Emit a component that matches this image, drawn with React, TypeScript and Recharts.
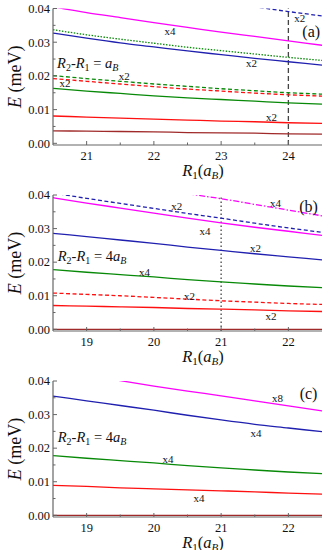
import React from "react";
import { LineChart, Line, XAxis, YAxis, ReferenceLine, ReferenceDot } from "recharts";

const FONT = '"Liberation Serif", "Times New Roman", serif';
const AXIS = "#666";
const INK = "#111";

const MAGENTA = "#ff00ff";
const BLUE = "#2020b0";
const GREEN = "#088a08";
const RED = "#ff1010";
const DARKRED = "#a02a2a";

// panel (a): R2 - R1 = aB
const rA = [20.5, 21, 21.5, 22, 22.5, 23, 23.5, 24, 24.5];
const aMagenta = [0.0405, 0.0388, 0.0373, 0.0358, 0.0344, 0.033, 0.0317, 0.0304, 0.0291];
const aBlueDash = [null, null, null, null, null, 0.042, 0.0405, 0.0391, 0.0378];
const aGreenDot = [0.0337, 0.0322, 0.0309, 0.0297, 0.0285, 0.0275, 0.0265, 0.0255, 0.0246];
const aBlue = [0.0327, 0.0312, 0.0298, 0.0286, 0.0274, 0.0263, 0.0252, 0.0242, 0.0232];
const aGreenDash = [0.0201, 0.0192, 0.0184, 0.0176, 0.0169, 0.0162, 0.0156, 0.015, 0.0146];
const aRedDash = [0.0192, 0.0184, 0.0176, 0.0168, 0.0161, 0.0155, 0.0149, 0.0144, 0.014];
const aGreen = [0.0163, 0.0155, 0.0148, 0.0141, 0.0135, 0.013, 0.0125, 0.012, 0.0116];
const aRed = [0.0081, 0.0078, 0.0075, 0.0072, 0.0069, 0.0066, 0.0064, 0.0061, 0.0059];
const aDarkRed = [0.0037, 0.0036, 0.0035, 0.0034, 0.0032, 0.0031, 0.003, 0.0028, 0.0027];
const aTicks = [21, 21.5, 22, 22.5, 23, 23.5, 24];

// panel (b): R2 - R1 = 4aB
const rB = [18.5, 19, 19.5, 20, 20.5, 21, 21.5, 22, 22.5];
const bMagentaDashDot = [null, null, null, 0.0422, 0.0404, 0.0389, 0.0372, 0.0355, 0.0338];
const bBlueDash = [0.0406, 0.039, 0.0375, 0.036, 0.0345, 0.0331, 0.0316, 0.0302, 0.0289];
const bMagenta = [0.0392, 0.0376, 0.0361, 0.0346, 0.0331, 0.0317, 0.0304, 0.0292, 0.028];
const bBlue = [0.0286, 0.0276, 0.0266, 0.0256, 0.0245, 0.0235, 0.0225, 0.0216, 0.0207];
const bGreen = [0.0178, 0.017, 0.0163, 0.0156, 0.0148, 0.0141, 0.0135, 0.0129, 0.0124];
const bRedDash = [0.0108, 0.0104, 0.01, 0.0095, 0.009, 0.0085, 0.0081, 0.0077, 0.0074];
const bRed = [0.0071, 0.0069, 0.0067, 0.0065, 0.0062, 0.006, 0.0058, 0.0055, 0.0053];
const bDarkRed = [0, 0, 0, 0, 0, 0, 0, 0, 0];

// panel (c): R2 - R1 = 4aB
const rC = rB;
const cMagenta = [null, 0.0418, 0.0401, 0.0385, 0.037, 0.0356, 0.0341, 0.0326, 0.0311];
const cBlue = [0.0355, 0.0341, 0.0327, 0.0313, 0.0298, 0.0284, 0.0271, 0.026, 0.0249];
const cGreen = [0.0178, 0.017, 0.0163, 0.0156, 0.0148, 0.0141, 0.0135, 0.0129, 0.0124];
const cRed = [0.0089, 0.0086, 0.0082, 0.0079, 0.0076, 0.0073, 0.007, 0.0066, 0.0063];
const cDarkRed = [0, 0, 0, 0, 0, 0, 0, 0, 0];
const bcTicks = [19, 19.5, 20, 20.5, 21, 21.5, 22];

const yTicks = [0, 0.005, 0.01, 0.015, 0.02, 0.025, 0.03, 0.035, 0.04];

// degeneracy labels: [R1, E, text]
const aNotes: [number, number, string][] = [
  [22.24, 0.0332, "x4"],
  [23.45, 0.0239, "x2"],
  [21.56, 0.0199, "x2"],
  [20.68, 0.018, "x2"],
  [23.75, 0.0078, "x2"],
  [24.17, 0.0371, "x2"],
];
const bNotes: [number, number, string][] = [
  [20.34, 0.0366, "x2"],
  [21.81, 0.0377, "x4"],
  [20.76, 0.0293, "x4"],
  [21.51, 0.0242, "x2"],
  [19.86, 0.0172, "x4"],
  [20.53, 0.0099, "x2"],
  [21.74, 0.0041, "x2"],
];
const cNotes: [number, number, string][] = [
  [21.84, 0.0348, "x8"],
  [21.52, 0.0246, "x4"],
  [20.21, 0.0167, "x4"],
  [20.67, 0.0053, "x4"],
];

type Series = { values: (number | null)[]; color: string; dash?: string };

const DASH = "4 2.5";
const DOT = "1.5 1.5";
const DASHDOT = "6 2 1.5 2";

const serif = { fontFamily: FONT };

const isMajor = (v: number, step: number) => Math.abs(v / step - Math.round(v / step)) < 1e-6;

function BottomTick(p: any) {
  const v = p.payload.value as number;
  const major = isMajor(v, 1);
  return (
    <g>
      <line x1={p.x} y1={p.y} x2={p.x} y2={p.y - (major ? 4 : 2.5)} stroke={AXIS} />
      {major && (
        <text x={p.x} y={p.y + 14.5} textAnchor="middle" fontSize={12.5} style={serif} fill={INK}>
          {v}
        </text>
      )}
    </g>
  );
}

function TopTick(p: any) {
  const major = isMajor(p.payload.value, 1);
  return <line x1={p.x} y1={p.y} x2={p.x} y2={p.y + (major ? 4 : 2.5)} stroke={AXIS} />;
}

function LeftTick(p: any) {
  const v = p.payload.value as number;
  const major = isMajor(v, 0.01);
  return (
    <g>
      <line x1={p.x} y1={p.y} x2={p.x + (major ? 4 : 2.5)} y2={p.y} stroke={AXIS} />
      {major && (
        <text x={p.x - 3} y={p.y + 4.3} textAnchor="end" fontSize={12.5} style={serif} fill={INK}>
          {v.toFixed(2)}
        </text>
      )}
    </g>
  );
}

function RightTick(p: any) {
  const major = isMajor(p.payload.value, 0.01);
  return <line x1={p.x} y1={p.y} x2={p.x - (major ? 4 : 2.5)} y2={p.y} stroke={AXIS} />;
}

function yTitle(props: any) {
  const vb = props.viewBox;
  const cx = 15;
  const cy = vb.y + vb.height / 2;
  return (
    <text
      x={cx}
      y={cy + 6}
      transform={`rotate(-90 ${cx} ${cy})`}
      textAnchor="middle"
      fontSize={18}
      style={serif}
      fill={INK}
    >
      <tspan fontStyle="italic">E</tspan>
      <tspan>{"\u00a0(meV)"}</tspan>
    </text>
  );
}

function xTitle(props: any) {
  const vb = props.viewBox;
  return (
    <text x={vb.x + 150} y={vb.y + 31} textAnchor="middle" fontSize={16.5} style={serif} fill={INK}>
      <tspan fontStyle="italic">R</tspan>
      <tspan fontSize={11} dy={3}>1</tspan>
      <tspan dy={-3}>(</tspan>
      <tspan fontStyle="italic">a</tspan>
      <tspan fontStyle="italic" fontSize={11} dy={3}>B</tspan>
      <tspan dy={-3}>)</tspan>
    </text>
  );
}

function Relation({ cx, cy, four }: { cx: number; cy: number; four: boolean }) {
  return (
    <text x={cx} y={cy + 5} fontSize={14.5} style={serif} fill={INK}>
      <tspan fontStyle="italic">R</tspan>
      <tspan fontSize={10} dy={3}>2</tspan>
      <tspan dy={-3}>-</tspan>
      <tspan fontStyle="italic">R</tspan>
      <tspan fontSize={10} dy={3}>1</tspan>
      <tspan dy={-3}>{"\u00a0=\u00a0" + (four ? "4" : "")}</tspan>
      <tspan fontStyle="italic">a</tspan>
      <tspan fontStyle="italic" fontSize={10} dy={3}>B</tspan>
    </text>
  );
}

interface PanelProps {
  top: number;
  marginTop: number;
  rs: number[];
  series: Series[];
  xDomain: [number, number];
  xTicks: number[];
  notes: [number, number, string][];
  letter: string;
  letterAt: [number, number];
  relationAt: [number, number];
  four: boolean;
  refX?: number;
  refDash?: string;
}

function Panel(props: PanelProps) {
  const { rs, series } = props;
  const rows = rs.map((r, i) => {
    const row: Record<string, number | null> = { r };
    series.forEach((s, k) => {
      row["s" + k] = s.values[i];
    });
    return row;
  });

  return (
    <div style={{ position: "absolute", left: 0, top: props.top }}>
      <LineChart width={330} height={185} data={rows} margin={{ top: props.marginTop, right: 8, bottom: 0, left: 0 }}>
        <XAxis
          dataKey="r"
          type="number"
          domain={props.xDomain}
          ticks={props.xTicks}
          interval={0}
          allowDataOverflow
          height={40}
          tickSize={0}
          tickMargin={0}
          tickLine={false}
          tick={BottomTick}
          stroke={AXIS}
          strokeWidth={1.2}
          label={{ content: xTitle }}
        />
        <XAxis
          xAxisId="top"
          orientation="top"
          dataKey="r"
          type="number"
          domain={props.xDomain}
          ticks={props.xTicks}
          interval={0}
          allowDataOverflow
          height={0}
          tickSize={0}
          tickMargin={0}
          tickLine={false}
          tick={TopTick}
          stroke={AXIS}
          strokeWidth={1.2}
        />
        <YAxis
          type="number"
          domain={[-0.0005, 0.04]}
          ticks={yTicks}
          interval={0}
          allowDataOverflow
          width={53}
          tickSize={0}
          tickMargin={0}
          tickLine={false}
          tick={LeftTick}
          stroke={AXIS}
          strokeWidth={1.2}
          label={{ content: yTitle }}
        />
        <YAxis
          yAxisId="right"
          orientation="right"
          type="number"
          domain={[-0.0005, 0.04]}
          ticks={yTicks}
          interval={0}
          allowDataOverflow
          width={0}
          tickSize={0}
          tickMargin={0}
          tickLine={false}
          tick={RightTick}
          stroke={AXIS}
          strokeWidth={1.2}
        />
        {props.refX !== undefined && (
          <ReferenceLine x={props.refX} stroke="#444" strokeWidth={1.3} strokeDasharray={props.refDash} />
        )}
        {series.map((s, k) => (
          <Line
            key={k}
            dataKey={"s" + k}
            type="monotone"
            stroke={s.color}
            strokeWidth={1.3}
            strokeDasharray={s.dash}
            dot={false}
            activeDot={false}
            connectNulls={false}
            isAnimationActive={false}
          />
        ))}
        {props.notes.map(([r, e, t], k) => (
          <ReferenceDot
            key={"n" + k}
            x={r}
            y={e}
            r={0}
            ifOverflow="visible"
            shape={(p: any) => (
              <text x={p.cx} y={p.cy + 4} textAnchor="middle" fontSize={11} style={serif} fill={INK}>
                {t}
              </text>
            )}
          />
        ))}
        <ReferenceDot
          x={props.letterAt[0]}
          y={props.letterAt[1]}
          r={0}
          ifOverflow="visible"
          shape={(p: any) => (
            <text x={p.cx} y={p.cy + 5.5} textAnchor="middle" fontSize={16} style={serif} fill={INK}>
              {props.letter}
            </text>
          )}
        />
        <ReferenceDot
          x={props.relationAt[0]}
          y={props.relationAt[1]}
          r={0}
          ifOverflow="visible"
          shape={(p: any) => <Relation cx={p.cx} cy={p.cy} four={props.four} />}
        />
      </LineChart>
    </div>
  );
}

export default function App() {
  return (
    <div style={{ position: "absolute", left: 0, top: 0, width: 330, height: 550, background: "#fff", overflow: "hidden" }}>
      <Panel
        top={0}
        marginTop={8.5}
        rs={rA}
        xDomain={[20.5, 24.5]}
        xTicks={aTicks}
        series={[
          { values: aMagenta, color: MAGENTA },
          { values: aBlueDash, color: BLUE, dash: DASH },
          { values: aGreenDot, color: GREEN, dash: DOT },
          { values: aBlue, color: BLUE },
          { values: aGreenDash, color: GREEN, dash: DASH },
          { values: aRedDash, color: RED, dash: DASH },
          { values: aGreen, color: GREEN },
          { values: aRed, color: RED },
          { values: aDarkRed, color: DARKRED },
        ]}
        notes={aNotes}
        letter="(a)"
        letterAt={[24.34, 0.0332]}
        relationAt={[20.56, 0.0238]}
        four={false}
        refX={24}
        refDash="5 3"
      />
      <Panel
        top={186}
        marginTop={9}
        rs={rB}
        xDomain={[18.5, 22.5]}
        xTicks={bcTicks}
        series={[
          { values: bMagentaDashDot, color: MAGENTA, dash: DASHDOT },
          { values: bBlueDash, color: BLUE, dash: DASH },
          { values: bMagenta, color: MAGENTA },
          { values: bBlue, color: BLUE },
          { values: bGreen, color: GREEN },
          { values: bRedDash, color: RED, dash: DASH },
          { values: bRed, color: RED },
          { values: bDarkRed, color: DARKRED },
        ]}
        notes={bNotes}
        letter="(b)"
        letterAt={[22.3, 0.0367]}
        relationAt={[18.57, 0.0219]}
        four={true}
        refX={21}
        refDash="1.5 2.5"
      />
      <Panel
        top={371.5}
        marginTop={9}
        rs={rC}
        xDomain={[18.5, 22.5]}
        xTicks={bcTicks}
        series={[
          { values: cMagenta, color: MAGENTA },
          { values: cBlue, color: BLUE },
          { values: cGreen, color: GREEN },
          { values: cRed, color: RED },
          { values: cDarkRed, color: DARKRED },
        ]}
        notes={cNotes}
        letter="(c)"
        letterAt={[22.3, 0.0363]}
        relationAt={[18.57, 0.0234]}
        four={true}
      />
    </div>
  );
}
